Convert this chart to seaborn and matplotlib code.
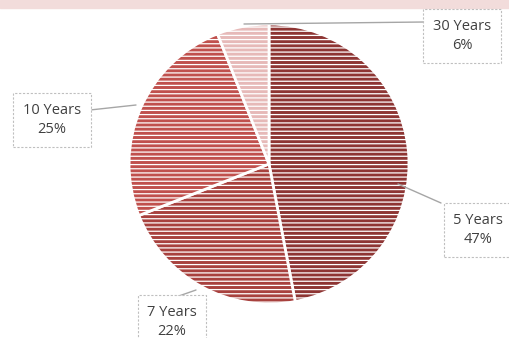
import matplotlib
matplotlib.use("Agg")
import matplotlib.pyplot as plt
import seaborn as sns

labels = ["5 Years", "7 Years", "10 Years", "30 Years"]
values = [47, 22, 25, 6]
pct_labels = ["47%", "22%", "25%", "6%"]
colors = ["#8e3533", "#a8413e", "#c0504d", "#e6b9b8"]

sns.set_theme(style="white")
plt.rcParams["font.family"] = ["Open Sans", "DejaVu Sans"]
plt.rcParams["hatch.linewidth"] = 0.9

H = 338
def P(x, y):
    # convert top-left pixel layout coords to data coords
    return x, H - y

fig = plt.figure(figsize=(5.09, 3.38), dpi=100)
ax = fig.add_axes([0, 0, 1, 1])

# top pink band
ax.axhspan(H - 8, H, color="#f2dcdb", zorder=0)

cx, cy = P(269, 164)
r = 140
wedges, _ = ax.pie(values, colors=colors, startangle=90, counterclock=False,
                   center=(cx, cy), radius=r, frame=True,
                   wedgeprops=dict(edgecolor="white", linewidth=2, hatch="----"))
ax.set_xlim(0, 509)
ax.set_ylim(0, H)
ax.set_aspect("equal")
ax.axis("off")

box = dict(boxstyle="square,pad=0.65", fc="white", ec="#bfbfbf", ls=(0, (2, 1.5)), lw=0.8)
label_pos = {"5 Years": (478, 230), "7 Years": (172, 322), "10 Years": (52, 120), "30 Years": (462, 36)}
anchors = {"5 Years": ((398, 184), (441, 203)), "7 Years": ((196, 290), (176, 297)),
           "10 Years": ((136, 105), (90, 110)), "30 Years": ((244, 24), (424, 22))}
for lab, pct in zip(labels, pct_labels):
    (x0, y0), (x1, y1) = anchors[lab]
    a, b = P(x0, y0)
    c, d = P(x1, y1)
    ax.plot([a, c], [b, d], color="#a6a6a6", lw=1, zorder=3)
    x, y = P(*label_pos[lab])
    ax.text(x, y, f"{lab}\n{pct}", ha="center", va="center", fontsize=10.5,
            color="#404040", linespacing=1.45, bbox=box, zorder=4)

fig.savefig("out.png", dpi=100)
